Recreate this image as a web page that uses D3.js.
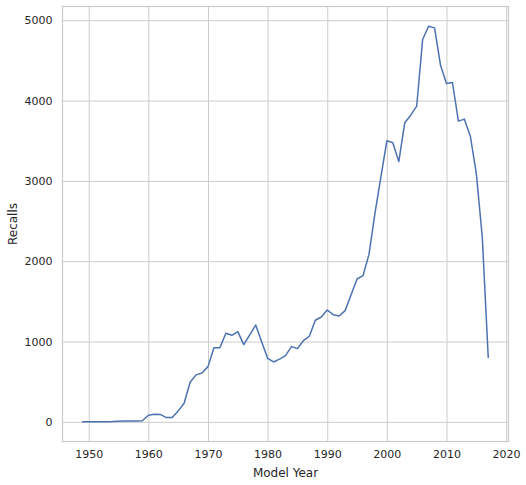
<!DOCTYPE html>
<html><head><meta charset="utf-8">
<script src="https://cdn.jsdelivr.net/npm/d3@7/dist/d3.min.js"></script>
<style>body{margin:0;background:#fff}svg{display:block}</style>
</head><body>
<svg id="c" width="526" height="485"></svg>
<script>
const years = [1949,1950,1951,1952,1953,1954,1955,1956,1957,1958,1959,
  1960,1961,1962,1963,1964,1965,1966,1967,1968,1969,
  1970,1971,1972,1973,1974,1975,1976,1977,1978,1979,
  1980,1981,1982,1983,1984,1985,1986,1987,1988,1989,
  1990,1991,1992,1993,1994,1995,1996,1997,1998,1999,
  2000,2001,2002,2003,2004,2005,2006,2007,2008,2009,
  2010,2011,2012,2013,2014,2015,2016,2017];
const recalls = [2,3,2,3,3,4,8,10,11,12,14,
  83,95,93,54,56,137,232,494,585,609,
  688,924,922,1103,1078,1123,962,1082,1206,999,
  792,746,782,825,937,912,1011,1066,1265,1306,
  1393,1335,1318,1385,1584,1779,1820,2085,2596,3051,
  3499,3474,3240,3723,3818,3930,4760,4925,4905,4440,
  4212,4225,3744,3769,3557,3093,2305,805];
const xTicks = [1950,1960,1970,1980,1990,2000,2010,2020];
const yTicks = [0,1000,2000,3000,4000,5000];
const xLabel = "Model Year";
const yLabel = "Recalls";

const L = 62.5, R = 508.5, T = 6.5, B = 441.5;
const svg = d3.select("#c");
const font = "DejaVu Sans, sans-serif";
const textColor = "#262626";
const gridColor = "#cccccc";

const xMin = d3.min(years), xMax = d3.max(years);
const xm = (xMax - xMin) * 0.05;
const yMin = d3.min(recalls), yMax = d3.max(recalls);
const ym = (yMax - yMin) * 0.05;
const x = d3.scaleLinear().domain([xMin - xm, xMax + xm]).range([L, R]);
const y = d3.scaleLinear().domain([yMin - ym, yMax + ym]).range([B, T]);

// grid via axes
const gx = svg.append("g").attr("transform", `translate(0,${B})`)
  .call(d3.axisBottom(x).tickValues(xTicks).tickFormat(d3.format("d")).tickSize(-(B - T)).tickPadding(9));
gx.select(".domain").remove();
gx.selectAll(".tick line").attr("stroke", gridColor).attr("stroke-width", 1);
gx.selectAll(".tick text").attr("fill", textColor).attr("font-family", font).attr("font-size", "11px");

const gy = svg.append("g").attr("transform", `translate(${L},0)`)
  .call(d3.axisLeft(y).tickValues(yTicks).tickFormat(d3.format("d")).tickSize(-(R - L)).tickPadding(10));
gy.select(".domain").remove();
gy.selectAll(".tick line").attr("stroke", gridColor).attr("stroke-width", 1);
gy.selectAll(".tick text").attr("fill", textColor).attr("font-family", font).attr("font-size", "11px");

// spines
svg.append("rect").attr("x", L).attr("y", T).attr("width", R - L).attr("height", B - T)
  .attr("fill", "none").attr("stroke", gridColor).attr("stroke-width", 1.25);

// line
const line = d3.line().x((d, i) => x(years[i])).y(d => y(d));
svg.append("path").datum(recalls).attr("d", line)
  .attr("fill", "none").attr("stroke", "#4c72b0").attr("stroke-width", 1.5)
  .attr("stroke-linejoin", "round").attr("stroke-linecap", "square");

// labels
svg.append("text").attr("x", (L + R) / 2).attr("y", 477).attr("text-anchor", "middle")
  .attr("font-family", font).attr("font-size", "12px").attr("fill", textColor).text(xLabel);
svg.append("text").attr("transform", `translate(17,${(T + B) / 2}) rotate(-90)`).attr("text-anchor", "middle")
  .attr("font-family", font).attr("font-size", "12px").attr("fill", textColor).text(yLabel);
</script>
</body></html>
